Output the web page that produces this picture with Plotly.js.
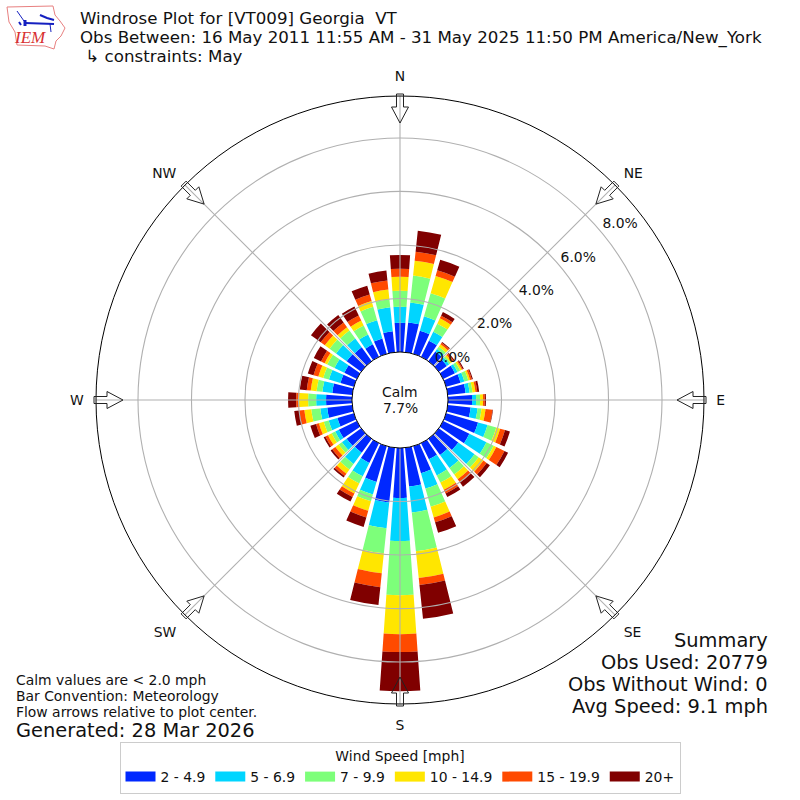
<!DOCTYPE html>
<html><head><meta charset="utf-8">
<script src="https://cdn.plot.ly/plotly-3.0.1.min.js"></script>
<style>html,body{margin:0;padding:0;background:#fff}#c{width:800px;height:800px}</style>
</head><body><div id="c"></div>
<script>
const directions = [0,10,20,30,40,50,60,70,80,90,100,110,120,130,140,150,160,170,180,190,200,210,220,230,240,250,260,270,280,290,300,310,320,330,340,350];
const speedLabels = ["2 - 4.9","5 - 6.9","7 - 9.9","10 - 14.9","15 - 19.9","20+"];
const speedColors = ["#0028ff","#00d5ff","#7dff7a","#ffe600","#ff4a00","#800000"];
const s2to5 = [1.09,1.12,.90,.67,.45,.37,.49,.56,.67,.90,.86,1.24,1.09,.90,.75,.67,1.05,1.46,1.87,2.06,1.39,.82,.64,.67,.75,.64,.94,.97,.75,.52,.52,.67,.64,.52,.60,.79];
const s5to7 = [.60,.75,.56,.37,.11,.11,.11,.15,.15,.15,.26,.37,.71,.75,.60,.67,.60,.97,1.61,.97,.49,.56,.52,.22,.15,.34,.26,.37,.37,.45,.41,.49,.41,.41,.71,.90];
const s7to10 = [.60,1.01,.90,.34,.11,.07,.11,.15,.11,.15,.15,.34,.30,.19,.30,.30,.71,1.46,2.02,.94,.26,.30,.26,.15,.15,.19,.34,.30,.22,.22,.30,.30,.37,.37,.52,.30];
const s10to15 = [.52,.56,.67,.22,.11,.07,.07,.07,.11,.11,.15,.15,.11,.22,.22,.30,.41,1.01,1.46,.75,.37,.41,.19,.15,.15,.19,.26,.34,.22,.19,.11,.22,.15,.21,.22,.37];
const s15to20 = [.30,.34,.22,.11,.07,.07,.04,.07,.07,.07,.26,.19,.34,.15,.15,.15,.19,.26,.67,.52,.26,.15,.11,.15,.11,.11,.19,.11,.15,.19,.15,.19,.22,.21,.26,.34];
const s20up = [.52,.79,.41,.15,.04,.04,.04,.04,.07,.04,.02,.19,.15,.15,.19,.15,.41,1.27,1.46,.67,.37,.19,.07,.07,.07,.22,.19,.30,.26,.22,.30,.45,.34,.37,.34,.37];
const speedSeries = [s2to5,s5to7,s7to10,s10to15,s15to20,s20up];
const compassAngles = [0,45,90,135,180,225,270,315];
const compassLabels = ["N","NE","E","SE","S","SW","W","NW"];
const radialTicks = [0,2,4,6,8];
const radialLabels = ["0.0%","2.0%","4.0%","6.0%","8.0%"];
const titleLines = ["Windrose Plot for [VT009] Georgia &nbsp;VT","Obs Between: 16 May 2011 11:55 AM - 31 May 2025 11:50 PM America/New_York","&nbsp;↳ constraints: May"];
const noteLines = ["Calm values are &lt; 2.0 mph","Bar Convention: Meteorology","Flow arrows relative to plot center."];
const summaryLines = ["Summary","Obs Used: 20779","Obs Without Wind: 0","Avg Speed: 9.1 mph"];

const FONT = "DejaVu Sans";
const px = v => v/800, py = v => 1 - v/800;
const traces = speedSeries.map((vals,i)=>({
  type:"barpolar", subplot:"polar", name:speedLabels[i], r:vals, theta:directions, width:8,
  marker:{color:speedColors[i], line:{width:0}}, hoverinfo:"skip", showlegend:false
}));
speedLabels.forEach((name,i)=>traces.push({type:"scatterpolar",subplot:"polar",name,r:[null],theta:[null],mode:"lines",
  line:{color:speedColors[i],width:10},hoverinfo:"skip"}));
const labelPad = 0.72, labelTheta = 51.5;
traces.push({type:"scatterpolar", subplot:"polar2", r:radialTicks.map(v=>v+labelPad), theta:radialTicks.map(()=>labelTheta),
  mode:"text", text:radialLabels, textposition:"middle center", textfont:{family:FONT,size:13.9,color:"#111"},
  showlegend:false, hoverinfo:"skip", cliponaxis:false});

const dom = {x:[96/800,704/800], y:[96/800,704/800]};
const rMax = 9.57, hole = 0.158;

const arrowShape = [[306,-3.5],[293,-3.5],[293,-8.5],[277,0],[293,8.5],[293,3.5],[306,3.5]];
const arrows = compassAngles.map(a=>{
  const t=a*Math.PI/180, ux=Math.sin(t), uy=-Math.cos(t), vx=Math.cos(t), vy=Math.sin(t);
  const pts=arrowShape.map(([r,w])=>[400+ux*r+vx*w,400+uy*r+vy*w]);
  return {type:"path", xref:"paper", yref:"paper", layer:"above",
    path:"M"+pts.map(p=>px(p[0]).toFixed(5)+","+py(p[1]).toFixed(5)).join("L")+"Z",
    fillcolor:"rgba(255,255,255,0)", line:{color:"#222",width:1}};
});
const poly=(pts,color,width)=>({type:"path",xref:"paper",yref:"paper",
  path:"M"+pts.map(p=>px(p[0]).toFixed(5)+","+py(p[1]).toFixed(5)).join("L"),
  line:{color,width},fillcolor:"rgba(0,0,0,0)"});
const logo=[
  poly([[7,7],[53,6],[55,15],[60,21],[65,28],[61,36],[56,41],[54,49],[45,46],[17,45],[15,32],[9,22],[7,7]],"#e88080",1),
  poly([[25,23],[54,24]],"#1520c0",2),
  poly([[25,20],[25,26]],"#1520c0",3),
  poly([[17,11],[24,21]],"#1520c0",1),
  poly([[40,15],[47,18],[54,20]],"#1520c0",2),
  poly([[50,24],[51,32]],"#1520c0",1),
  poly([[19,22],[21,25]],"#1520c0",2)
];
const ann=(text,x,y,size,xanchor,color)=>({text,x:px(xanchor==="right"?x+2:(xanchor==="center"?x:x-2)),y:py(y),xref:"paper",yref:"paper",showarrow:false,
  xanchor:xanchor||"left",yanchor:"middle",align:xanchor==="right"?"right":"left",
  font:{family:FONT,size,color:color||"#111"}});
const annotations=[];
annotations.push(ann(titleLines[1],80,37.5,16.67));
annotations.push(ann(titleLines[2],80,56.5,16.67));
noteLines.forEach((t,i)=>annotations.push(ann(t,16,680+i*16,13.9)));
annotations.push(ann("Generated: 28 Mar 2026",16,730,19.4));
summaryLines.forEach((t,i)=>annotations.push(ann(t,768,640+i*22,19.4,"right")));
annotations.push(Object.assign(ann("Calm",400,392,13.9,"center"),{align:"center"}));
annotations.push(Object.assign(ann("7.7%",400,408,13.9,"center"),{align:"center"}));
annotations.push({text:"<i>IEM</i>",x:px(30),y:py(38),xref:"paper",yref:"paper",showarrow:false,xanchor:"center",yanchor:"middle",font:{family:"Liberation Serif",size:17,color:"#d83030"}});

const layout={
  width:800,height:800,margin:{l:0,r:0,t:0,b:0},paper_bgcolor:"#fff",font:{family:FONT,color:"#111",size:13.9},
  title:{text:titleLines[0],x:80/800,xanchor:"left",xref:"paper",y:py(18.5),yanchor:"middle",font:{family:FONT,size:16.67,color:"#111"},pad:{t:0,l:0}},
  polar:{domain:dom,hole,bgcolor:"rgba(0,0,0,0)",barmode:"stack",
    radialaxis:{range:[0,rMax],visible:false},
    angularaxis:{direction:"clockwise",rotation:90,visible:false,thetaunit:"degrees"}},
  polar2:{domain:dom,hole,bgcolor:"rgba(0,0,0,0)",
    radialaxis:{range:[0,rMax],tickvals:radialTicks,showticklabels:false,showline:false,ticks:"",angle:45,
      gridcolor:"#b0b0b0",gridwidth:1.1},
    angularaxis:{direction:"clockwise",rotation:90,tickvals:compassAngles,ticktext:compassLabels,thetaunit:"degrees",
      gridcolor:"#b0b0b0",gridwidth:1.1,linecolor:"#000",linewidth:1,ticks:"outside",ticklen:9,tickcolor:"rgba(0,0,0,0)",
      tickfont:{family:FONT,size:13.9,color:"#111"}}},
  showlegend:true,
  legend:{orientation:"h",x:0.5,xanchor:"center",y:py(742),yanchor:"top",bgcolor:"#fff",bordercolor:"#ccc",borderwidth:1,
    title:{text:"Wind Speed [mph]",side:"top center",font:{family:FONT,size:13.9}},font:{family:FONT,size:13.9},itemwidth:30,
    traceorder:"normal",itemclick:false,itemdoubleclick:false},
  shapes:logo.concat(arrows),annotations
};
Plotly.newPlot("c",traces,layout,{staticPlot:true,displayModeBar:false});
</script></body></html>
